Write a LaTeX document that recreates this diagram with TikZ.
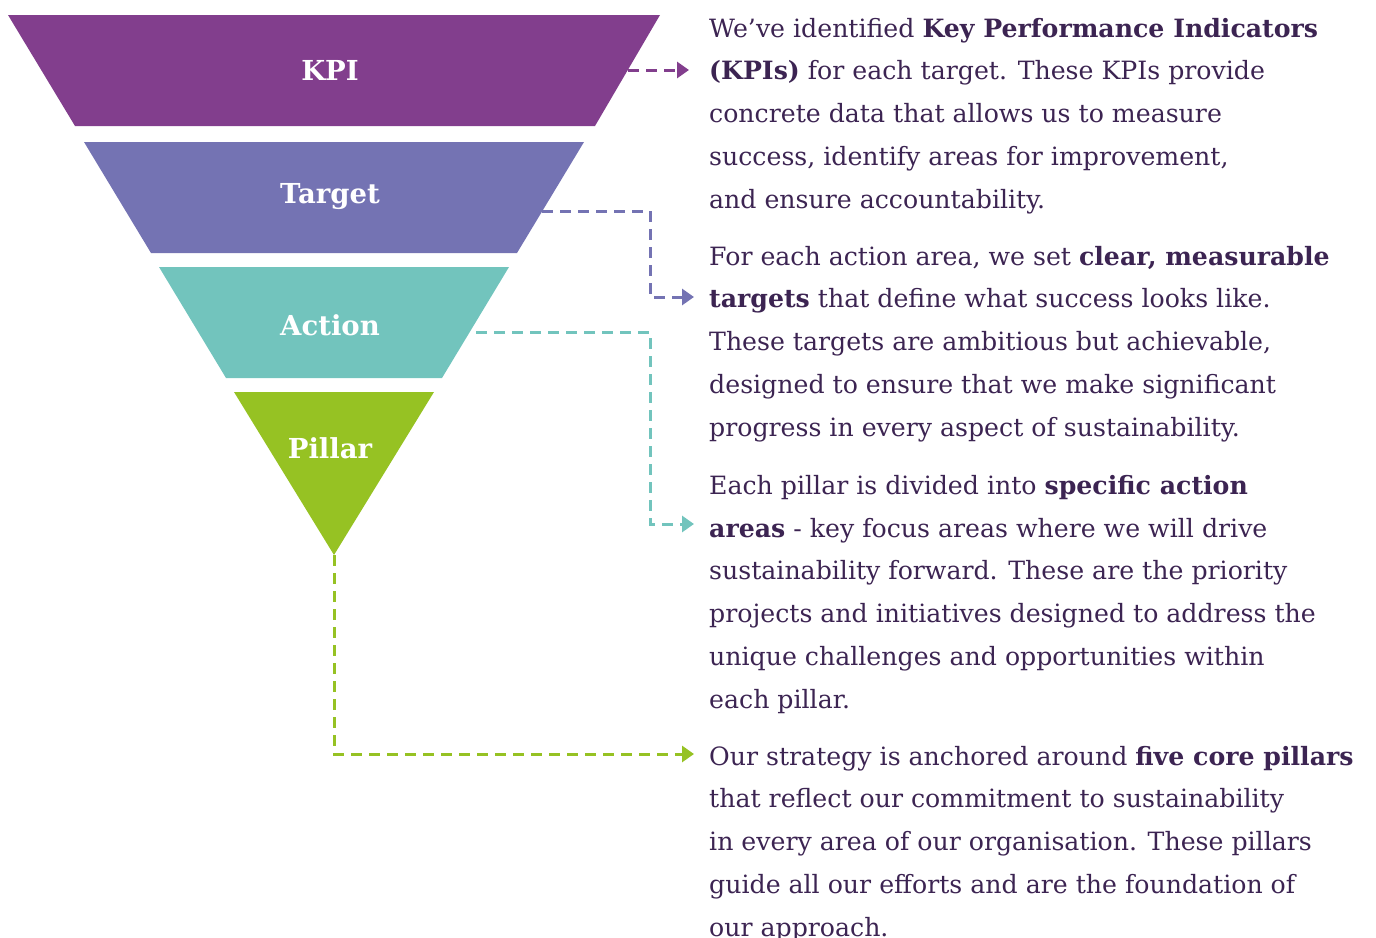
\documentclass[tikz,border=0pt]{standalone}
\usepackage{fontspec}
\setmainfont{DejaVu Serif}
\usetikzlibrary{arrows.meta,calc}
\definecolor{kpicol}{HTML}{823E8D}
\definecolor{tgtcol}{HTML}{7473B3}
\definecolor{actcol}{HTML}{72C4BD}
\definecolor{pilcol}{HTML}{96C223}
\definecolor{txtcol}{HTML}{3C2452}
\begin{document}
\begin{tikzpicture}[x=1pt,y=-1pt,
  lbl/.style={text=white,font=\fontsize{27.5}{32}\selectfont\bfseries},
  para/.style={anchor=base west,align=left,inner sep=0pt,text=txtcol,font=\fontsize{25.2}{42.7}\selectfont},
  conn/.style={line width=3pt,dash pattern=on 11pt off 7pt,-{Triangle[length=12pt,width=16pt]}}]
\useasboundingbox (0,0) rectangle (1376,937);
% funnel
\fill[kpicol] (8,15) -- (660,15) -- (595,126) -- (75,126) -- cycle;
\fill[tgtcol] (84,142) -- (584,142) -- (517,253) -- (151,253) -- cycle;
\fill[actcol] (159,267) -- (509,267) -- (442,378) -- (226,378) -- cycle;
\fill[pilcol] (234,392) -- (434,392) -- (334,555) -- cycle;
\node[lbl] (kpi) at (330,70) {KPI};
\node[lbl] (tgt) at (330,197) {Target};
\node[lbl] (act) at (330,325) {Action};
\node[lbl] (pil) at (330,448) {Pillar};
% connector anchors
\coordinate (kpiS) at (628,70);
\coordinate (tgtS) at (542,211);
\coordinate (actS) at (476,332);
\coordinate (pilS) at (334,555);
% text (anchored at the baseline of the last line)
\node[para] (p1) at (709,208) {We’ve identified \textbf{Key Performance Indicators}\\
\textbf{(KPIs)} for each target. These KPIs provide\\
concrete data that allows us to measure\\
success, identify areas for improvement,\\
and ensure accountability.};
\node[para] (p2) at (709,436) {For each action area, we set \textbf{clear, measurable}\\
\textbf{targets} that define what success looks like.\\
These targets are ambitious but achievable,\\
designed to ensure that we make significant\\
progress in every aspect of sustainability.};
\node[para] (p3) at (709,708) {Each pillar is divided into \textbf{specific action}\\
\textbf{areas} - key focus areas where we will drive\\
sustainability forward. These are the priority\\
projects and initiatives designed to address the\\
unique challenges and opportunities within\\
each pillar.};
\node[para] (p4) at (709,936) {Our strategy is anchored around \textbf{five core pillars}\\
that reflect our commitment to sustainability\\
in every area of our organisation. These pillars\\
guide all our efforts and are the foundation of\\
our approach.};
\coordinate (kpiE) at (689,70);
\coordinate (tgtE) at (694,297);
\coordinate (actE) at (694,524);
\coordinate (pilE) at (694,754);
% connectors
\draw[conn,kpicol] (kpiS) -- (kpiE);
\draw[conn,tgtcol] (tgtS) -| (650,297) -- (tgtE);
\draw[conn,actcol] (actS) -| (650,524) -- (actE);
\draw[conn,pilcol] (pilS) |- (pilE);
\end{tikzpicture}
\end{document}
